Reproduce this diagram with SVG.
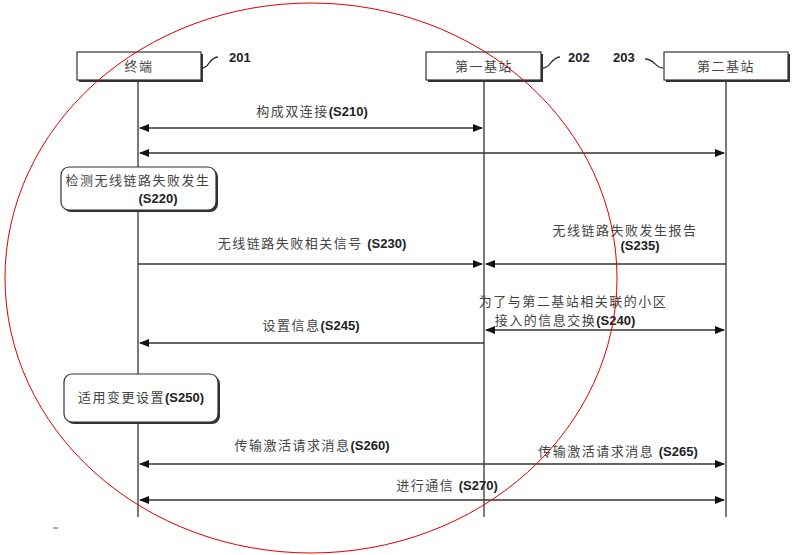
<svg xmlns="http://www.w3.org/2000/svg" width="796" height="555" viewBox="0 0 796 555">
<style>
.t{font-family:"Noto Sans CJK SC","Liberation Serif",serif;font-size:13px;fill:#444;text-anchor:middle;letter-spacing:1.5px}
.n{font-family:"Liberation Sans",sans-serif;font-size:13px;font-weight:bold;fill:#222;letter-spacing:0}
.b{fill:#fff;stroke:#333;stroke-width:1.2}
.s{fill:#333}
.l{stroke:#333;stroke-width:1.3;fill:none}
</style>
<defs>
<marker id="a" markerWidth="10" markerHeight="8" refX="9" refY="4" orient="auto-start-reverse" markerUnits="userSpaceOnUse"><path d="M0,0 L10,4 L0,8 z" fill="#111"/></marker>
</defs>
<rect width="796" height="555" fill="#fff"/>
<g id="lifelines">
<line class="l" x1="138" y1="80" x2="138" y2="517"/>
<line class="l" x1="484" y1="80" x2="484" y2="517"/>
<line class="l" x1="726" y1="80" x2="726" y2="517"/>
</g>
<g id="n201"><rect class="s" x="79" y="54" width="124" height="28"/><rect class="b" x="77" y="52" width="124" height="28"/><text class="t" x="139" y="71">终端</text>
<path class="l" d="M202,68 C210,68 208,58 218,57"/><text class="n" x="229" y="62">201</text></g>
<g id="n202"><rect class="s" x="428" y="54" width="115" height="28"/><rect class="b" x="426" y="52" width="115" height="28"/><text class="t" x="484" y="71">第一基站</text>
<path class="l" d="M543,68 C551,68 550,58 560,57"/><text class="n" x="568" y="62">202</text></g>
<g id="n203"><rect class="s" x="666" y="54" width="124" height="28"/><rect class="b" x="664" y="52" width="124" height="28"/><text class="t" x="726" y="71">第二基站</text>
<path class="l" d="M663,68 C655,68 655,59 645,59"/><text class="n" x="613" y="62">203</text></g>
<g id="s220"><rect class="s" x="63" y="169" width="155" height="43" rx="8"/><rect class="b" x="61" y="167" width="155" height="43" rx="8"/>
<text class="t" x="138" y="185">检测无线链路失败发生</text><text class="n" x="158" y="203" text-anchor="middle">(S220)</text></g>
<g id="s250"><rect class="s" x="66" y="376" width="154" height="48" rx="8"/><rect class="b" x="64" y="374" width="154" height="48" rx="8"/>
<text class="t" x="141" y="402">适用变更设置<tspan class="n">(S250)</tspan></text></g>
<g id="connectors">
<line class="l" x1="140" y1="128" x2="482" y2="128" marker-start="url(#a)" marker-end="url(#a)"/>
<line class="l" x1="140" y1="153" x2="724" y2="153" marker-start="url(#a)" marker-end="url(#a)"/>
<line class="l" x1="138" y1="264" x2="482" y2="264" marker-end="url(#a)"/>
<line class="l" x1="726" y1="264" x2="486" y2="264" marker-end="url(#a)"/>
<line class="l" x1="486" y1="330" x2="724" y2="330" marker-start="url(#a)" marker-end="url(#a)"/>
<line class="l" x1="484" y1="343" x2="140" y2="343" marker-end="url(#a)"/>
<line class="l" x1="140" y1="464" x2="724" y2="464" marker-start="url(#a)" marker-end="url(#a)"/>
<line class="l" x1="140" y1="500" x2="724" y2="500" marker-start="url(#a)" marker-end="url(#a)"/>
</g>
<g id="labels">
<text class="t" x="312" y="116">构成双连接<tspan class="n">(S210)</tspan></text>
<text class="t" x="312" y="248">无线链路失败相关信号 <tspan class="n">(S230)</tspan></text>
<text class="t" x="625" y="235">无线链路失败发生报告</text>
<text class="n" x="640" y="250" text-anchor="middle">(S235)</text>
<text class="t" x="573" y="306">为了与第二基站相关联的小区</text>
<text class="t" x="565" y="325">接入的信息交换<tspan class="n">(S240)</tspan></text>
<text class="t" x="311" y="330">设置信息<tspan class="n">(S245)</tspan></text>
<text class="t" x="312" y="450">传输激活请求消息<tspan class="n">(S260)</tspan></text>
<text class="t" x="618" y="456">传输激活请求消息 <tspan class="n">(S265)</tspan></text>
<text class="t" x="447" y="490">进行通信 <tspan class="n">(S270)</tspan></text>
<line x1="53" y1="528" x2="58" y2="528" stroke="#555"/>
</g>
<ellipse cx="311" cy="278" rx="306" ry="275" fill="none" stroke="#d00" stroke-width="1"/>
</svg>
